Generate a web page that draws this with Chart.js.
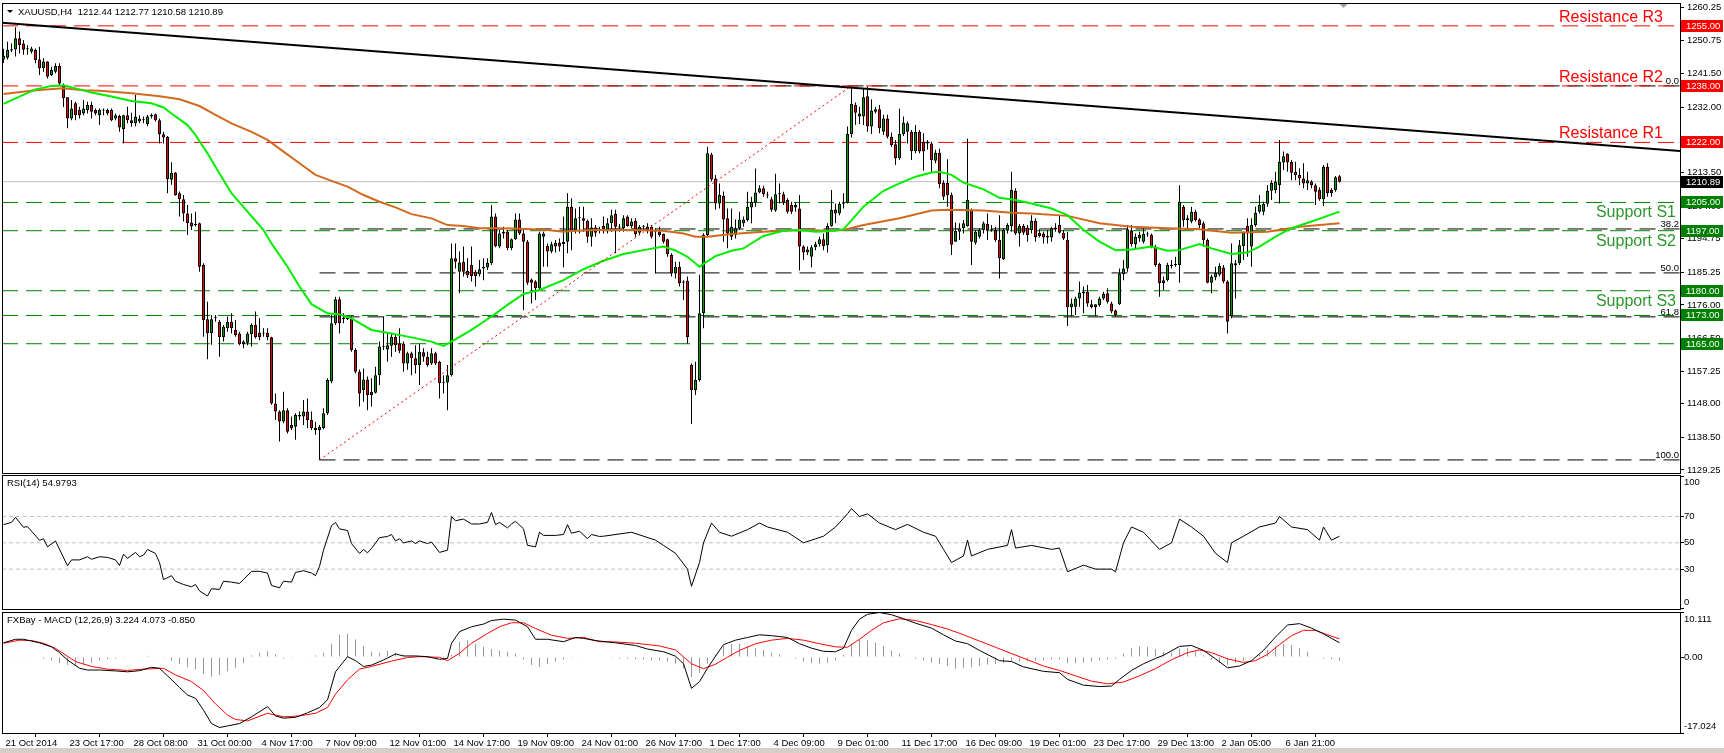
<!DOCTYPE html>
<html>
<head>
<meta charset="utf-8">
<title>XAUUSD,H4</title>
<script src="https://cdn.jsdelivr.net/npm/chart.js@4.4.1/dist/chart.umd.min.js"></script>
<style>
  html, body { margin: 0; padding: 0; background: #ffffff; }
  #terminal { position: relative; width: 1724px; height: 753px; overflow: hidden; background: #ffffff; }
  #terminal canvas { position: absolute; left: 0; }
  #statusLine { position: absolute; left: 0; top: 748px; width: 1724px; height: 5px; background: #d4d0c8; }
</style>
</head>
<body>
<div id="terminal">
  <canvas id="priceChart" width="1724" height="482" style="top:0px"></canvas>
  <canvas id="rsiChart" width="1724" height="146" style="top:470px"></canvas>
  <canvas id="macdChart" width="1724" height="147" style="top:606px"></canvas>
  <div id="statusLine"></div>
</div>
<script>
// ===== данные графика XAUUSD H4 =====

// свечи: open / high / low / close, по одной на бар
var barOpen = [1245.5,1246.0,1248.0,1248.3,1251.5,1250.0,1248.4,1247.7,1248.2,1245.5,
1243.0,1244.9,1241.0,1242.0,1243.6,1238.0,1234.8,1228.8,1233.1,1231.2,
1230.2,1231.2,1232.6,1231.2,1229.7,1231.0,1231.2,1231.2,1228.8,1229.5,
1225.7,1229.7,1228.3,1227.4,1228.8,1228.3,1227.2,1229.3,1230.0,1228.3,
1224.3,1223.6,1211.4,1213.4,1207.6,1205.9,1201.9,1199.3,1198.6,1199.1,
1187.3,1171.9,1168.0,1172.2,1171.2,1166.8,1169.4,1171.2,1168.9,1167.9,
1165.6,1165.3,1167.7,1170.3,1168.1,1167.9,1168.1,1166.8,1148.1,1145.8,
1143.0,1146.2,1142.0,1141.5,1144.4,1144.4,1145.8,1143.4,1141.2,1140.6,
1141.1,1145.3,1154.3,1170.8,1177.6,1172.3,1172.2,1172.2,1163.2,1157.1,
1151.9,1154.9,1151.4,1151.1,1156.1,1164.0,1163.4,1164.4,1167.0,1165.1,
1165.1,1159.4,1162.3,1160.9,1159.0,1162.6,1161.3,1159.4,1162.3,1159.9,
1154.0,1154.0,1156.1,1189.2,1185.4,1188.2,1185.6,1187.3,1185.4,1184.7,
1186.3,1186.6,1187.8,1201.0,1192.5,1196.2,1196.7,1192.0,1194.6,1200.2,
1196.2,1193.9,1183.2,1182.6,1180.7,1195.3,1192.7,1191.1,1192.5,1193.6,
1193.2,1193.9,1203.8,1197.2,1200.5,1200.5,1199.8,1195.3,1197.9,1197.1,
1198.3,1197.2,1199.1,1201.7,1197.9,1197.7,1201.0,1198.3,1199.8,1196.4,
1198.1,1197.2,1198.1,1196.8,1196.7,1196.1,1194.6,1190.1,1184.9,1186.8,
1182.3,1182.8,1159.0,1151.9,1154.7,1173.6,1195.8,1218.6,1211.8,1204.7,
1206.8,1200.5,1195.3,1195.8,1197.7,1199.1,1200.0,1203.6,1204.9,1207.8,
1209.0,1207.1,1205.9,1202.7,1207.3,1207.3,1205.7,1204.3,1204.3,1203.3,
1192.5,1190.8,1189.6,1192.3,1193.2,1194.6,1192.9,1198.3,1203.0,1201.9,
1204.6,1204.9,1224.4,1232.6,1230.2,1229.3,1235.1,1226.5,1230.7,1231.4,
1225.0,1228.8,1223.6,1221.5,1217.5,1224.4,1225.0,1225.0,1219.6,1225.0,
1222.2,1222.2,1221.7,1216.8,1219.1,1210.6,1210.6,1207.1,1193.9,1196.7,
1197.7,1198.3,1202.9,1193.6,1195.3,1197.2,1198.9,1197.1,1197.2,1194.4,
1188.9,1197.0,1198.3,1208.3,1196.2,1198.3,1197.9,1197.2,1199.8,1196.4,
1196.2,1195.5,1195.1,1197.4,1198.6,1196.4,1194.4,1175.3,1175.5,1177.8,
1179.2,1179.7,1176.2,1175.3,1176.0,1177.8,1179.3,1176.4,1174.4,1176.2,
1184.7,1186.3,1197.0,1193.2,1194.8,1193.9,1195.9,1195.8,1192.5,1187.6,
1183.0,1183.0,1187.0,1187.3,1187.3,1203.8,1200.5,1199.6,1202.4,1200.2,
1199.1,1194.4,1182.3,1183.8,1184.5,1186.6,1182.6,1172.7,1187.8,1187.8,
1192.7,1198.4,1192.5,1198.6,1202.4,1202.4,1204.6,1208.3,1208.5,1209.9,
1216.3,1218.7,1216.5,1213.7,1212.8,1211.8,1210.4,1210.9,1209.9,1208.5,
1205.9,1215.1,1208.5,1208.5,1212.44];
var barHigh = [1248.5,1250.5,1250.0,1254.6,1253.4,1251.0,1249.6,1249.1,1248.6,1249.1,
1245.8,1245.0,1243.4,1244.4,1244.4,1238.7,1234.8,1234.0,1233.5,1232.1,
1234.0,1233.5,1233.5,1231.6,1231.6,1231.6,1231.6,1231.6,1230.2,1229.8,
1229.8,1232.1,1230.4,1235.4,1229.7,1229.3,1229.8,1230.2,1230.2,1228.8,
1225.0,1223.8,1216.4,1213.6,1208.1,1207.1,1204.3,1201.9,1202.4,1199.3,
1187.8,1176.9,1173.1,1173.1,1171.7,1170.3,1172.7,1173.6,1171.7,1168.4,
1166.0,1168.4,1170.8,1174.1,1172.2,1169.4,1169.4,1167.0,1150.9,1146.2,
1151.4,1146.7,1144.4,1145.3,1145.8,1149.1,1149.5,1145.8,1142.9,1142.0,
1146.7,1155.2,1173.1,1178.3,1178.3,1173.6,1172.7,1172.7,1163.7,1157.7,
1158.0,1155.7,1155.2,1158.5,1165.6,1172.7,1167.9,1167.9,1167.5,1169.4,
1165.6,1162.7,1162.7,1164.6,1165.1,1163.7,1162.7,1163.7,1162.7,1160.2,
1156.1,1159.0,1193.4,1193.4,1191.1,1192.5,1189.2,1192.5,1185.9,1188.7,
1189.2,1189.2,1204.3,1201.9,1197.2,1198.1,1197.2,1194.8,1201.9,1201.9,
1197.7,1194.4,1183.5,1183.0,1196.7,1196.7,1193.4,1193.9,1194.4,1194.8,
1201.0,1207.6,1206.2,1203.3,1203.8,1203.8,1200.2,1200.5,1198.6,1198.1,
1201.0,1200.5,1202.9,1202.9,1198.9,1201.4,1201.4,1200.5,1200.5,1198.6,
1198.6,1199.1,1198.6,1197.7,1198.1,1196.2,1194.8,1190.6,1188.2,1188.2,
1183.0,1184.0,1159.4,1159.9,1184.5,1196.3,1220.8,1219.1,1212.8,1210.4,
1208.1,1203.3,1203.3,1200.2,1202.4,1201.0,1208.0,1206.6,1214.6,1209.9,
1209.7,1208.0,1206.6,1213.1,1210.4,1208.0,1206.2,1205.2,1204.9,1207.1,
1192.9,1192.5,1192.9,1193.9,1195.3,1196.2,1199.1,1208.5,1204.7,1205.2,
1207.6,1226.5,1237.8,1233.3,1232.1,1237.3,1237.8,1234.2,1232.1,1232.6,
1229.8,1229.8,1224.8,1222.7,1231.6,1229.3,1227.9,1225.5,1226.9,1225.5,
1224.6,1222.7,1222.2,1219.9,1220.3,1211.3,1217.2,1207.8,1199.3,1199.1,
1200.0,1223.1,1203.3,1197.2,1197.7,1199.6,1201.9,1198.6,1198.1,1201.4,
1197.7,1199.1,1213.7,1209.0,1198.9,1198.9,1198.6,1201.4,1200.5,1197.4,
1196.7,1197.2,1198.1,1199.1,1201.4,1197.2,1196.7,1177.8,1178.3,1182.6,
1181.2,1181.6,1177.4,1176.2,1178.3,1179.7,1180.7,1176.9,1174.7,1186.3,
1188.7,1198.6,1198.6,1196.2,1196.7,1197.7,1196.7,1196.2,1193.0,1187.9,
1184.0,1187.9,1188.7,1189.6,1209.9,1204.3,1201.4,1203.8,1202.9,1200.5,
1199.6,1194.8,1184.5,1186.8,1187.8,1187.3,1183.0,1193.4,1188.7,1194.4,
1196.7,1200.5,1200.5,1203.8,1207.1,1205.2,1209.9,1211.3,1213.7,1222.7,
1219.4,1218.9,1217.0,1216.5,1214.7,1216.1,1213.7,1211.3,1210.4,1209.3,
1215.6,1216.1,1209.0,1212.5,1212.77];
var barLow = [1244.5,1245.5,1247.6,1246.3,1247.2,1246.8,1246.8,1247.2,1244.4,1241.1,
1242.0,1240.1,1240.8,1241.5,1238.2,1232.0,1226.0,1228.3,1228.3,1228.8,
1229.7,1230.2,1228.8,1229.7,1226.9,1229.7,1229.7,1228.0,1228.3,1225.0,
1221.7,1227.4,1226.4,1226.6,1227.4,1227.4,1226.6,1228.8,1227.9,1221.7,
1221.7,1207.6,1210.0,1206.9,1201.0,1199.6,1195.8,1197.2,1198.2,1185.4,
1167.0,1160.6,1164.7,1171.2,1161.3,1165.6,1168.4,1167.9,1167.0,1164.6,
1163.7,1164.6,1164.2,1166.5,1166.0,1167.0,1166.0,1147.7,1143.4,1137.3,
1142.5,1139.6,1140.6,1137.8,1143.4,1142.0,1141.1,1140.6,1139.2,1132.1,
1140.8,1144.8,1153.8,1170.3,1167.9,1170.8,1171.7,1162.7,1156.6,1147.2,
1148.6,1146.2,1147.2,1150.9,1153.3,1163.2,1159.9,1161.3,1162.7,1162.3,
1157.1,1157.6,1156.1,1156.6,1153.3,1159.9,1158.5,1159.0,1159.0,1149.5,
1150.9,1146.2,1155.7,1186.3,1179.3,1184.0,1183.6,1182.6,1181.2,1184.0,
1183.0,1185.9,1187.3,1192.3,1192.0,1194.8,1191.5,1191.5,1194.4,1195.8,
1174.5,1181.6,1176.4,1177.4,1180.2,1186.8,1186.8,1190.6,1190.8,1191.1,
1186.6,1190.6,1191.5,1196.2,1196.2,1196.7,1193.6,1192.5,1195.3,1196.2,
1196.2,1196.2,1196.7,1190.6,1196.7,1196.7,1198.1,1197.7,1195.3,1195.8,
1197.2,1196.2,1194.8,1184.9,1195.3,1193.4,1189.6,1184.0,1183.5,1181.2,
1177.4,1165.1,1142.3,1150.5,1154.3,1169.4,1195.3,1210.9,1202.9,1203.3,
1193.9,1192.0,1194.4,1194.8,1197.2,1198.1,1199.6,1199.1,1203.8,1207.6,
1206.6,1206.2,1202.4,1202.4,1204.7,1204.3,1201.9,1201.7,1202.4,1185.7,
1188.7,1190.1,1186.6,1191.5,1192.5,1191.5,1190.8,1198.1,1199.1,1201.4,
1203.3,1204.7,1223.4,1226.9,1227.2,1226.9,1225.0,1224.4,1230.2,1224.6,
1224.1,1223.1,1220.8,1215.6,1217.0,1223.8,1221.7,1217.0,1218.9,1218.9,
1214.0,1219.9,1213.7,1216.1,1209.0,1205.7,1203.8,1190.1,1193.9,1194.4,
1196.2,1198.1,1187.3,1193.0,1194.8,1196.2,1194.4,1196.7,1193.9,1183.5,
1188.7,1196.2,1196.7,1195.8,1192.5,1195.8,1193.9,1196.2,1193.9,1195.1,
1193.4,1193.4,1193.9,1196.7,1196.2,1194.4,1170.0,1172.7,1173.1,1175.5,
1173.6,1175.5,1175.0,1172.7,1175.5,1177.4,1176.4,1173.6,1172.7,1176.0,
1183.0,1185.4,1192.5,1192.0,1193.9,1193.4,1195.3,1192.0,1186.8,1178.3,
1180.2,1182.6,1186.3,1186.8,1182.3,1198.1,1197.2,1199.1,1199.6,1197.7,
1192.5,1182.1,1179.3,1183.0,1184.0,1182.1,1167.9,1172.2,1177.8,1187.3,
1188.7,1189.6,1186.8,1198.1,1201.9,1201.4,1203.8,1205.7,1207.6,1204.7,
1214.2,1213.7,1211.3,1211.3,1209.9,1209.0,1208.5,1209.0,1204.3,1205.5,
1204.0,1206.6,1206.6,1208.0,1210.58];
var barClose = [1246.5,1248.2,1248.4,1251.5,1249.6,1248.2,1248.6,1248.6,1245.3,1243.0,
1244.9,1240.6,1242.5,1243.6,1238.7,1234.5,1228.8,1231.6,1229.7,1229.7,
1231.6,1232.6,1230.7,1230.2,1231.2,1231.2,1230.2,1228.3,1229.7,1226.2,
1229.7,1228.3,1227.4,1229.3,1227.9,1228.5,1229.3,1229.8,1228.3,1224.3,
1223.4,1211.6,1213.4,1207.1,1205.9,1201.9,1199.1,1198.2,1199.0,1186.8,
1171.7,1168.0,1171.9,1172.5,1166.8,1169.8,1171.2,1169.4,1167.4,1164.9,
1164.9,1167.9,1170.3,1166.8,1166.8,1168.2,1166.8,1148.1,1145.8,1143.0,
1146.2,1140.1,1141.1,1144.8,1144.8,1145.8,1143.4,1141.1,1140.6,1141.5,
1145.3,1154.7,1170.8,1177.6,1170.8,1172.0,1172.0,1163.2,1157.1,1150.9,
1154.9,1150.5,1150.5,1156.1,1164.2,1164.2,1164.6,1167.0,1164.6,1163.0,
1159.4,1162.3,1160.9,1159.0,1162.7,1161.3,1159.0,1162.3,1159.4,1153.8,
1153.8,1156.1,1189.2,1188.2,1188.0,1185.4,1184.4,1184.2,1184.2,1186.1,
1186.8,1187.9,1201.0,1192.7,1196.2,1196.7,1192.0,1194.6,1200.2,1196.2,
1193.9,1182.3,1182.3,1180.7,1196.2,1196.2,1191.1,1193.2,1193.6,1192.5,
1193.9,1203.8,1196.7,1200.5,1200.7,1199.8,1195.3,1197.9,1196.4,1197.2,
1197.4,1199.1,1201.4,1198.1,1198.0,1200.5,1198.3,1199.6,1196.0,1198.1,
1198.2,1198.1,1195.3,1196.9,1195.8,1193.9,1190.4,1184.9,1186.8,1182.1,
1182.6,1166.8,1151.9,1154.7,1173.6,1195.8,1218.9,1211.5,1204.7,1207.1,
1200.2,1196.2,1198.1,1197.7,1200.2,1200.2,1203.8,1205.2,1207.8,1209.0,
1207.3,1207.0,1202.9,1207.3,1207.4,1204.9,1202.4,1202.4,1203.6,1192.5,
1190.8,1191.7,1192.3,1193.2,1194.6,1192.7,1198.3,1202.9,1201.9,1204.6,
1205.0,1224.4,1232.9,1230.4,1229.3,1234.8,1226.5,1231.0,1231.4,1226.0,
1228.8,1223.6,1221.3,1217.5,1224.4,1227.6,1227.4,1219.6,1225.0,1219.4,
1219.4,1221.7,1217.0,1219.1,1210.2,1206.6,1207.1,1193.0,1197.0,1197.7,
1199.1,1205.7,1193.9,1196.7,1197.2,1199.1,1197.2,1197.2,1194.4,1189.2,
1197.2,1198.6,1208.5,1196.2,1198.3,1196.4,1195.8,1199.8,1195.1,1195.5,
1195.1,1195.1,1197.7,1197.9,1196.4,1194.8,1175.3,1176.4,1177.8,1179.5,
1179.7,1176.4,1175.3,1176.2,1177.8,1179.1,1176.9,1174.1,1173.1,1184.9,
1186.3,1197.4,1193.2,1195.3,1195.8,1196.1,1196.0,1192.5,1187.3,1182.1,
1182.1,1187.3,1187.2,1187.4,1205.2,1200.0,1200.0,1202.4,1200.0,1198.6,
1194.4,1182.3,1184.0,1185.0,1187.0,1182.6,1171.2,1187.8,1187.2,1192.9,
1196.4,1196.2,1198.6,1202.1,1204.3,1204.6,1208.3,1210.6,1210.9,1216.5,
1218.1,1216.3,1213.4,1212.8,1211.8,1210.4,1211.3,1209.9,1208.0,1205.9,
1215.1,1207.6,1207.6,1212.1,1210.89];

// скользящие средние (быстрая зелёная, медленная оранжевая): номер бара -> цена
var fastMaBars = [0,8,12,15,18,22,27,32,37,40,42,46,48,51,54,57,61,65,67,71,74,77,81,84,87,92,97,102,107,110,
112,117,122,126,130,134,140,145,150,155,160,165,168,171,174,175,178,182,185,190,195,199,203,207,210,215,220,224,228,232,
234,237,240,245,249,253,257,262,266,270,274,278,282,287,291,294,299,302,307,311,314,318,322,327,331,334];
var fastMaValues = [1232.9,1237.0,1238.0,1238.2,1237.3,1236.1,1235.0,1233.7,1233.1,1231.9,1230.2,1226.9,1224.1,1218.9,1213.2,1207.6,1202.4,1197.2,1193.4,1186.8,
1181.2,1176.2,1173.6,1173.3,1172.2,1168.9,1167.9,1166.8,1165.6,1164.4,1165.6,1168.9,1172.7,1176.0,1179.1,1180.2,1183.0,1186.1,1188.5,1190.4,
1191.5,1192.5,1191.4,1189.6,1186.8,1187.6,1189.8,1191.3,1192.0,1195.5,1197.0,1197.2,1196.7,1196.9,1197.4,1203.8,1208.3,1210.4,1212.3,1213.5,
1213.7,1212.8,1210.6,1208.7,1206.3,1205.7,1204.7,1203.3,1201.4,1197.2,1193.9,1191.5,1191.7,1192.5,1191.3,1191.5,1193.2,1192.0,1190.4,1190.8,
1192.5,1195.3,1197.7,1199.6,1201.2,1202.4];
var slowMaBars = [0,8,15,20,24,32,39,44,49,53,57,62,66,70,74,78,82,86,90,94,98,102,107,111,115,119,123,127,132,136,
140,143,148,157,165,170,173,176,182,190,199,207,210,215,224,232,236,245,252,257,266,274,282,291,299,307,316,324,334];
var slowMaValues = [1235.7,1236.8,1237.3,1236.8,1236.6,1235.9,1235.1,1234.2,1232.3,1229.8,1227.4,1225.0,1222.7,1219.4,1216.1,1212.8,1211.1,1209.5,1207.1,1205.2,
1203.6,1201.7,1200.5,1198.6,1198.3,1197.7,1197.7,1197.6,1197.4,1197.2,1196.7,1197.0,1197.2,1197.2,1197.0,1196.2,1195.3,1195.3,1196.1,1196.7,
1197.2,1197.0,1197.2,1198.6,1200.5,1202.7,1202.9,1202.7,1202.1,1201.9,1201.2,1199.1,1198.1,1197.7,1197.4,1196.4,1196.7,1198.1,1199.1];

// уровни
var resistanceLevels = [1255.00, 1238.00, 1222.00];
var resistanceNames = ['Resistance R3', 'Resistance R2', 'Resistance R1'];
var supportLevels = [1205.00, 1197.00, 1180.00, 1173.00, 1165.00];
var supportNames = ['Support S1', 'Support S2', 'Support S3'];
var lastPrice = 1210.89;
var fibLevels = [1238.0, 1197.5, 1185.05, 1172.6, 1132.1];
var fibNames = ['0.0', '38.2', '50.0', '61.8', '100.0'];
var fibAnchorBars = [79, 212];
var fibAnchorPrices = [1132.1, 1238.0];
var trendBars = [-0.375, 419.125];
var trendPrices = [1255.9, 1219.6];

// RSI(14): номер бара -> значение
var rsiBars = [0,2,3,5,6,9,10,11,13,16,17,19,21,22,24,26,28,29,30,31,33,34,35,36,38,39,40,42,43,45,
47,48,49,51,52,54,55,57,59,60,62,64,66,67,69,70,72,73,75,77,78,79,80,82,83,84,86,87,89,90,
91,92,94,96,97,98,99,100,102,103,104,106,107,109,111,112,113,115,117,119,121,122,123,124,126,127,128,130,131,133,
134,135,138,140,141,142,144,146,147,149,150,157,163,165,168,171,172,174,175,177,179,182,186,189,191,196,200,203,205,208,
211,212,214,216,219,223,226,230,233,235,237,240,241,242,246,251,252,253,257,262,264,266,270,273,277,278,280,282,285,289,
292,294,297,300,303,306,307,310,314,318,319,322,326,329,330,332,334];
var rsiValues = [63.8,65.5,69.3,61.8,62.3,51.9,53.1,46.9,51.4,32.5,37,37,39.4,37.5,39.4,38.9,37,32.7,41.4,38.2,
42.7,39.4,40.7,44.9,41.9,35,22,25,20.8,18.3,16.6,18.3,13.4,9.6,15.1,14.6,20.8,20.1,19.1,22.1,
28.3,28.3,27,17.6,15.8,20.8,20.1,27.5,28.8,27,25,32,44.4,63,65.5,60.6,59.3,49.4,41.9,44.9,
42.4,45.7,53.9,54.8,56.3,51.4,53.1,49.9,51.4,49.4,51.4,49.4,50.6,42.7,44.4,69.8,66.8,68,64.3,64.3,
65.5,73,63.8,65.5,61.3,64.3,66.3,60.6,48.1,46.9,58.1,55.6,55.6,56.3,63.8,57.3,58.8,53.1,56.3,54.8,
55,58,52,48,42,30,17,35,50,65,58,55,60,65,62,58,50,53,55,62,
72,76,70,72,65,60,64,58,55,45,35,40,52,40,45,48,60,46,48,45,
46,28,33,30,30,28,50,62,58,45,50,68,62,55,42,35,50,55,62,65,
70,62,60,52,62,52,54.9793];
var rsiLevels = [70, 50, 30];

// MACD (12,26,9): основная, сигнальная, гистограмма
var macdBars = [0,3,5,9,12,14,16,19,21,24,28,31,34,37,39,41,44,46,48,50,52,54,56,59,62,66,68,70,73,76,
79,81,83,86,88,90,92,95,98,100,103,106,109,111,112,114,117,120,122,125,128,131,133,136,140,143,145,148,153,158,
161,165,168,170,172,174,176,178,180,183,186,189,192,196,199,202,205,208,210,212,214,216,219,222,225,228,232,235,238,241,
244,249,252,255,260,264,266,270,274,277,279,282,285,288,290,294,297,300,303,306,309,312,315,318,321,324,327,330,332,334];
var macdMain = [3.2,4.0,4.0,3.2,2.3,1.0,-0.65,-2.5,-2.9,-2.9,-3.1,-3.3,-3.05,-2.3,-2.5,-4.2,-6.8,-8.5,-9.25,-11.9,
-14.9,-15.8,-15.45,-14.9,-13.4,-11.1,-13.2,-13.7,-13.5,-12.5,-11.3,-9.6,-3.3,0.1,-0.8,-2.1,-1.8,-0.65,0.7,0.25,
0.25,0.1,-0.5,-0.3,3.1,5.7,6.8,7.4,8.2,8.5,8.3,6.8,4.0,4.0,3.45,4.4,4.2,3.7,3.2,2.6,
1.8,1.2,0.2,-1.5,-7.0,-5.5,-2.5,0.2,2.8,3.8,4.4,5.0,4.8,4.4,3.0,2.0,1.3,1.2,2.0,6.0,
8.5,9.6,10.0,9.5,8.6,7.6,6.5,5.0,3.6,3.0,1.5,-0.8,-1.0,-2.2,-3.2,-3.5,-5.0,-6.3,-6.6,-6.5,
-5.0,-3.0,-1.5,-0.3,0.4,2.4,2.6,1.5,-0.4,-2.4,-2.0,-0.8,1.5,4.5,7.2,7.5,6.5,5.2,4.2,3.224];
var signalBars = [0,4,7,10,13,18,22,26,31,35,40,43,47,50,53,56,58,61,66,70,74,78,81,83,86,89,92,97,101,104,
109,111,114,117,121,124,127,130,133,137,141,145,149,153,158,164,168,172,175,178,181,184,188,192,196,200,204,208,211,214,
217,220,224,228,232,236,240,244,248,252,256,260,264,268,272,276,280,284,288,292,296,299,302,306,310,313,316,319,322,325,
328,331,334];
var signalValues = [3.1,3.8,3.7,3.1,1.95,-1.0,-2.1,-2.7,-3.0,-2.7,-2.5,-4.0,-5.5,-7.5,-10.5,-13.0,-14.0,-14.3,-12.6,-13.4,
-13.2,-12.6,-11.3,-8.3,-5.1,-2.7,-2.1,-0.9,-0.1,0.1,-0.05,-0.8,0.85,3.1,5.3,6.8,7.7,7.7,6.4,4.9,
4.2,4.4,3.45,3.4,3.1,2.5,1.6,-1.5,-2.6,-1.6,0.0,1.5,3.0,3.8,4.2,3.8,3.0,2.3,2.2,4.0,
6.0,7.7,8.6,8.2,7.3,6.3,5.0,3.6,2.2,0.8,-0.6,-2.0,-3.0,-4.2,-5.4,-6.0,-5.6,-4.2,-2.6,-0.6,
1.0,1.6,1.0,-0.4,-1.2,-0.8,0.6,2.8,4.8,6.0,6.0,5.0,4.073];
// гистограмма считана через бар (0, 2, 4, ...)
var histValues = [0.1,0.2,0.2,0.1,0.0,-0.4,-0.8,-1.3,-1.8,-2.0,-1.8,-1.3,-0.8,-0.5,-0.3,-0.2,-0.1,0.1,0.3,0.2,
-0.2,-0.9,-1.6,-2.3,-2.8,-3.8,-4.4,-4.0,-3.2,-2.4,-1.4,0.4,1.0,1.3,0.6,-0.3,-0.2,-0.1,0.1,0.4,
1.0,3.0,5.0,5.3,4.0,2.5,1.2,1.0,1.4,1.0,0.6,0.3,0.2,-0.2,-0.4,-0.6,0.5,3.5,3.8,3.0,
2.3,1.8,1.5,1.2,0.8,-0.6,-1.8,-2.2,-1.6,-1.0,-0.6,-0.2,0.1,-0.1,-0.1,-0.1,-0.2,-0.3,-0.4,-0.5,
-0.6,-0.7,-0.8,-1.0,-1.6,-2.5,-4.5,-3.5,-1.5,0.5,2.5,3.0,3.0,2.5,2.0,1.6,1.0,0.6,0.2,-0.3,
-1.0,-1.4,-1.5,-1.3,-0.8,0.5,3.0,4.0,3.8,3.2,2.5,1.5,0.8,0.2,-0.4,-0.8,-1.2,-1.6,-2.0,-2.6,
-2.4,-2.3,-2.0,-1.7,-1.6,-1.4,-0.9,-1.0,-0.9,-0.8,-0.7,-0.6,-0.6,-1.4,-1.4,-1.2,-1.0,-0.8,-0.6,-0.4,
0.8,2.0,2.4,2.3,1.8,1.2,1.0,1.9,2.1,1.2,0.4,-0.6,-1.2,-1.8,-1.3,-0.8,-0.2,0.6,1.6,2.4,
3.0,2.7,2.0,1.2,0.2,-0.3,-0.5,-0.85];
var macdLast = [3.224, 4.073, -0.850];

// шкалы
var priceTicks = [1260.25,1250.75,1241.50,1232.00,1222.75,1213.50,1204.00,1194.75,1185.25,1176.00,1166.50,1157.25,1148.00,1138.50,1129.25];
var timeBars = [0,16,32,48,64,80,96,112,128,144,160,176,192,208,224,240,256,272,288,304,320];
var timeLabels = ['21 Oct 2014','23 Oct 17:00','28 Oct 08:00','31 Oct 00:00','4 Nov 17:00','7 Nov 09:00','12 Nov 01:00',
  '14 Nov 17:00','19 Nov 09:00','24 Nov 01:00','26 Nov 17:00','1 Dec 17:00','4 Dec 09:00','9 Dec 01:00',
  '11 Dec 17:00','16 Dec 09:00','19 Dec 01:00','23 Dec 17:00','29 Dec 13:00','2 Jan 05:00','6 Jan 21:00'];

// ===== оформление =====
var FONT_FAMILY = "'Liberation Sans', Arial, sans-serif";
var SMALL_FONT = '9.5px ' + FONT_FAMILY;
var xMin = -0.375, xMax = 419.125;
var UP_COLOR = '#00a000', DOWN_COLOR = '#f00000';
var RES_COLOR = '#ff0000', SUP_COLOR = '#008000', SUP_TEXT = '#2e962e';

Chart.defaults.font.family = FONT_FAMILY;
Chart.defaults.font.size = 9.5;
Chart.defaults.color = '#000000';

function points(xs, ys) {
  return xs.map(function (x, i) { return { x: x, y: ys[i] }; });
}

function levelLine(price, color, dash, fromBar, order) {
  return {
    type: 'line', data: [{ x: fromBar, y: price }, { x: xMax, y: price }],
    borderColor: color, borderWidth: 1, borderDash: dash, pointRadius: 0, order: order
  };
}

function curve(xs, ys, color, width, order, dash) {
  return {
    type: 'line', data: points(xs, ys), borderColor: color, borderWidth: width,
    borderDash: dash || [], pointRadius: 0, tension: 0, order: order
  };
}

// ось X (индекс бара) без подписей
function hiddenX() {
  return { type: 'linear', display: false, min: xMin, max: xMax, offset: false };
}

function rightAxis(min, max, ticks, showLabels) {
  return {
    position: 'right', min: min, max: max,
    afterBuildTicks: function (scale) {
      scale.ticks = ticks.map(function (v) { return { value: v }; });
    },
    afterFit: function (scale) {
      scale.width = 44; scale.paddingTop = 0; scale.paddingBottom = 0;
    },
    ticks: {
      display: showLabels, autoSkip: false, padding: 3, color: '#000',
      callback: function (v) { return v.toFixed(2); }
    },
    grid: { display: true, drawOnChartArea: false, drawTicks: true, tickLength: 4, color: '#000' },
    border: { display: false }
  };
}

function frame(ctx, a) {
  ctx.strokeStyle = '#000';
  ctx.lineWidth = 1;
  ctx.strokeRect(a.left + 0.5, a.top + 0.5, a.right - a.left, a.bottom - a.top);
}

var baseOptions = {
  responsive: false, animation: false, events: [], devicePixelRatio: 1,
  plugins: { legend: { display: false }, tooltip: { enabled: false } }
};

// ===== основное окно: свечи =====
var barIndex = barOpen.map(function (v, i) { return i; });

var priceDatasets = [];
resistanceLevels.forEach(function (p) { priceDatasets.push(levelLine(p, RES_COLOR, [16, 8], xMin, 8)); });
supportLevels.forEach(function (p) { priceDatasets.push(levelLine(p, SUP_COLOR, [16, 8], xMin, 8)); });
fibLevels.forEach(function (p) { priceDatasets.push(levelLine(p, '#000000', [16, 8], fibAnchorBars[0], 9)); });
priceDatasets.push(levelLine(lastPrice, '#c0c0c0', [], xMin, 9));
priceDatasets.push({
  type: 'bar', order: 6, grouped: false, barThickness: 1, minBarLength: 1, inflateAmount: 0,
  backgroundColor: '#000000', borderWidth: 0,
  data: barIndex.map(function (i) { return { x: i, y: [barLow[i], barHigh[i]] }; })
});
priceDatasets.push({
  type: 'bar', order: 5, grouped: false, barThickness: 3, minBarLength: 1, inflateAmount: 0,
  borderColor: '#000000', borderWidth: 1, borderSkipped: false,
  backgroundColor: barIndex.map(function (i) { return barClose[i] >= barOpen[i] ? UP_COLOR : DOWN_COLOR; }),
  data: barIndex.map(function (i) { return { x: i, y: [barOpen[i], barClose[i]] }; })
});
priceDatasets.push(curve(slowMaBars, slowMaValues, '#d2691e', 2, 3));
priceDatasets.push(curve(fastMaBars, fastMaValues, '#00ee00', 2, 2));
priceDatasets.push(curve(fibAnchorBars, fibAnchorPrices, '#ff0000', 1, 1, [2, 3]));
priceDatasets.push(curve(trendBars, trendPrices, '#000000', 2, 1));

var priceOverlay = {
  id: 'priceOverlay',
  afterDraw: function (chart) {
    var ctx = chart.ctx, a = chart.chartArea, ys = chart.scales.y, xs = chart.scales.x;
    var last = barOpen.length - 1;
    ctx.save();
    frame(ctx, a);
    // заголовок окна
    ctx.fillStyle = '#000';
    ctx.beginPath();
    ctx.moveTo(a.left + 5, a.top + 7); ctx.lineTo(a.left + 11, a.top + 7); ctx.lineTo(a.left + 8, a.top + 10);
    ctx.closePath(); ctx.fill();
    ctx.font = SMALL_FONT; ctx.textAlign = 'left'; ctx.textBaseline = 'middle';
    ctx.fillText('XAUUSD,H4  ' + barOpen[last].toFixed(2) + ' ' + barHigh[last].toFixed(2) + ' ' +
      barLow[last].toFixed(2) + ' ' + barClose[last].toFixed(2), a.left + 16, a.top + 9);
    // метка сдвига графика
    var sx = xs.getPixelForValue(barOpen.length);
    ctx.fillStyle = '#a0a0a0';
    ctx.beginPath(); ctx.moveTo(sx - 4, a.top + 1); ctx.lineTo(sx + 4, a.top + 1); ctx.lineTo(sx, a.top + 5); ctx.closePath(); ctx.fill();
    // подписи уровней
    ctx.font = '16px ' + FONT_FAMILY; ctx.textAlign = 'right'; ctx.textBaseline = 'alphabetic';
    ctx.fillStyle = RES_COLOR;
    resistanceLevels.forEach(function (p, i) { ctx.fillText(resistanceNames[i], a.right - 17, ys.getPixelForValue(p) - 4); });
    ctx.fillStyle = SUP_TEXT;
    supportNames.forEach(function (n, i) { ctx.fillText(n, a.right - 4, ys.getPixelForValue(supportLevels[i]) + 15); });
    // подписи фибо
    ctx.font = SMALL_FONT; ctx.fillStyle = '#000';
    fibLevels.forEach(function (p, i) { ctx.fillText(fibNames[i], a.right - 1, ys.getPixelForValue(p) - 2); });
    // ценовые метки на шкале
    var badges = [];
    resistanceLevels.forEach(function (p) { badges.push({ price: p, color: '#ff0000' }); });
    badges.push({ price: lastPrice, color: '#000000' });
    supportLevels.forEach(function (p) { badges.push({ price: p, color: '#008000' }); });
    ctx.textAlign = 'left'; ctx.textBaseline = 'middle';
    badges.forEach(function (b) {
      var py = Math.round(ys.getPixelForValue(b.price));
      ctx.fillStyle = b.color;
      ctx.fillRect(a.right + 1, py - 6, 42, 12);
      ctx.fillStyle = '#ffffff';
      ctx.fillText(b.price.toFixed(2), a.right + 6, py + 0.5);
    });
    ctx.restore();
  }
};

new Chart(document.getElementById('priceChart'), {
  type: 'bar',
  data: { datasets: priceDatasets },
  options: Object.assign({}, baseOptions, {
    layout: { padding: { left: 2, top: 3, right: 0, bottom: 9 } },
    scales: { x: hiddenX(), y: rightAxis(1128.40, 1261.47, priceTicks, true) }
  }),
  plugins: [priceOverlay]
});

// ===== подписи шкал индикаторов (как в терминале — прижаты внутрь окна) =====
function paneOverlay(title, labels) {
  return {
    id: 'paneOverlay',
    afterDraw: function (chart) {
      var ctx = chart.ctx, a = chart.chartArea, ys = chart.scales.y;
      ctx.save();
      frame(ctx, a);
      ctx.fillStyle = '#000'; ctx.font = SMALL_FONT; ctx.textAlign = 'left'; ctx.textBaseline = 'middle';
      ctx.fillText(title, a.left + 5, a.top + 8);
      labels.forEach(function (t) {
        var py = ys.getPixelForValue(t.value);
        py = Math.min(Math.max(py, a.top + 7), a.bottom - 7);
        ctx.fillText(t.text, a.right + 4, py);
      });
      ctx.restore();
    }
  };
}

// ===== RSI =====
var rsiDatasets = rsiLevels.map(function (v) { return levelLine(v, '#c0c0c0', [4, 3], xMin, 5); });
rsiDatasets.push(curve(rsiBars, rsiValues, '#000000', 1, 1));

new Chart(document.getElementById('rsiChart'), {
  type: 'line',
  data: { datasets: rsiDatasets },
  options: Object.assign({}, baseOptions, {
    layout: { padding: { left: 2, top: 5, right: 0, bottom: 7 } },
    scales: { x: hiddenX(), y: rightAxis(-0.3, 101.5, [100, 70, 50, 30, 0], false) }
  }),
  plugins: [paneOverlay('RSI(14) ' + rsiValues[rsiValues.length - 1].toFixed(4),
    [{ value: 100, text: '100' }, { value: 70, text: '70' }, { value: 50, text: '50' }, { value: 30, text: '30' }, { value: 0, text: '0' }])]
});

// ===== MACD =====
var macdDatasets = [
  {
    type: 'bar', order: 3, grouped: false, barThickness: 1, inflateAmount: 0, backgroundColor: '#999999', borderWidth: 0,
    data: histValues.map(function (v, i) { return { x: i * 2, y: v }; })
  },
  curve(signalBars, signalValues, '#ff0000', 1, 2),
  curve(macdBars, macdMain, '#000000', 1, 1)
];

new Chart(document.getElementById('macdChart'), {
  type: 'bar',
  data: { datasets: macdDatasets },
  options: Object.assign({}, baseOptions, {
    layout: { padding: { left: 2, top: 6, right: 0, bottom: 0 } },
    scales: {
      x: {
        type: 'linear', min: xMin, max: xMax, offset: false, position: 'bottom',
        afterBuildTicks: function (scale) {
          scale.ticks = timeBars.map(function (v) { return { value: v }; });
        },
        afterFit: function (scale) {
          scale.height = 20; scale.paddingLeft = 0; scale.paddingRight = 0;
        },
        ticks: {
          autoSkip: false, maxRotation: 0, minRotation: 0, align: 'start', labelOffset: 2, padding: 1, color: '#000',
          callback: function (v, i) { return timeLabels[i]; }
        },
        grid: { display: true, drawOnChartArea: false, drawTicks: true, tickLength: 4, color: '#000' },
        border: { display: false }
      },
      y: rightAxis(-17.024, 10.111, [10.111, 0, -17.024], false)
    }
  }),
  plugins: [paneOverlay('FXBay - MACD (12,26,9) ' + macdLast[0].toFixed(3) + ' ' + macdLast[1].toFixed(3) + ' ' + macdLast[2].toFixed(3),
    [{ value: 10.111, text: '10.111' }, { value: 0, text: '0.00' }, { value: -17.024, text: '-17.024' }])]
});
</script>
</body>
</html>
